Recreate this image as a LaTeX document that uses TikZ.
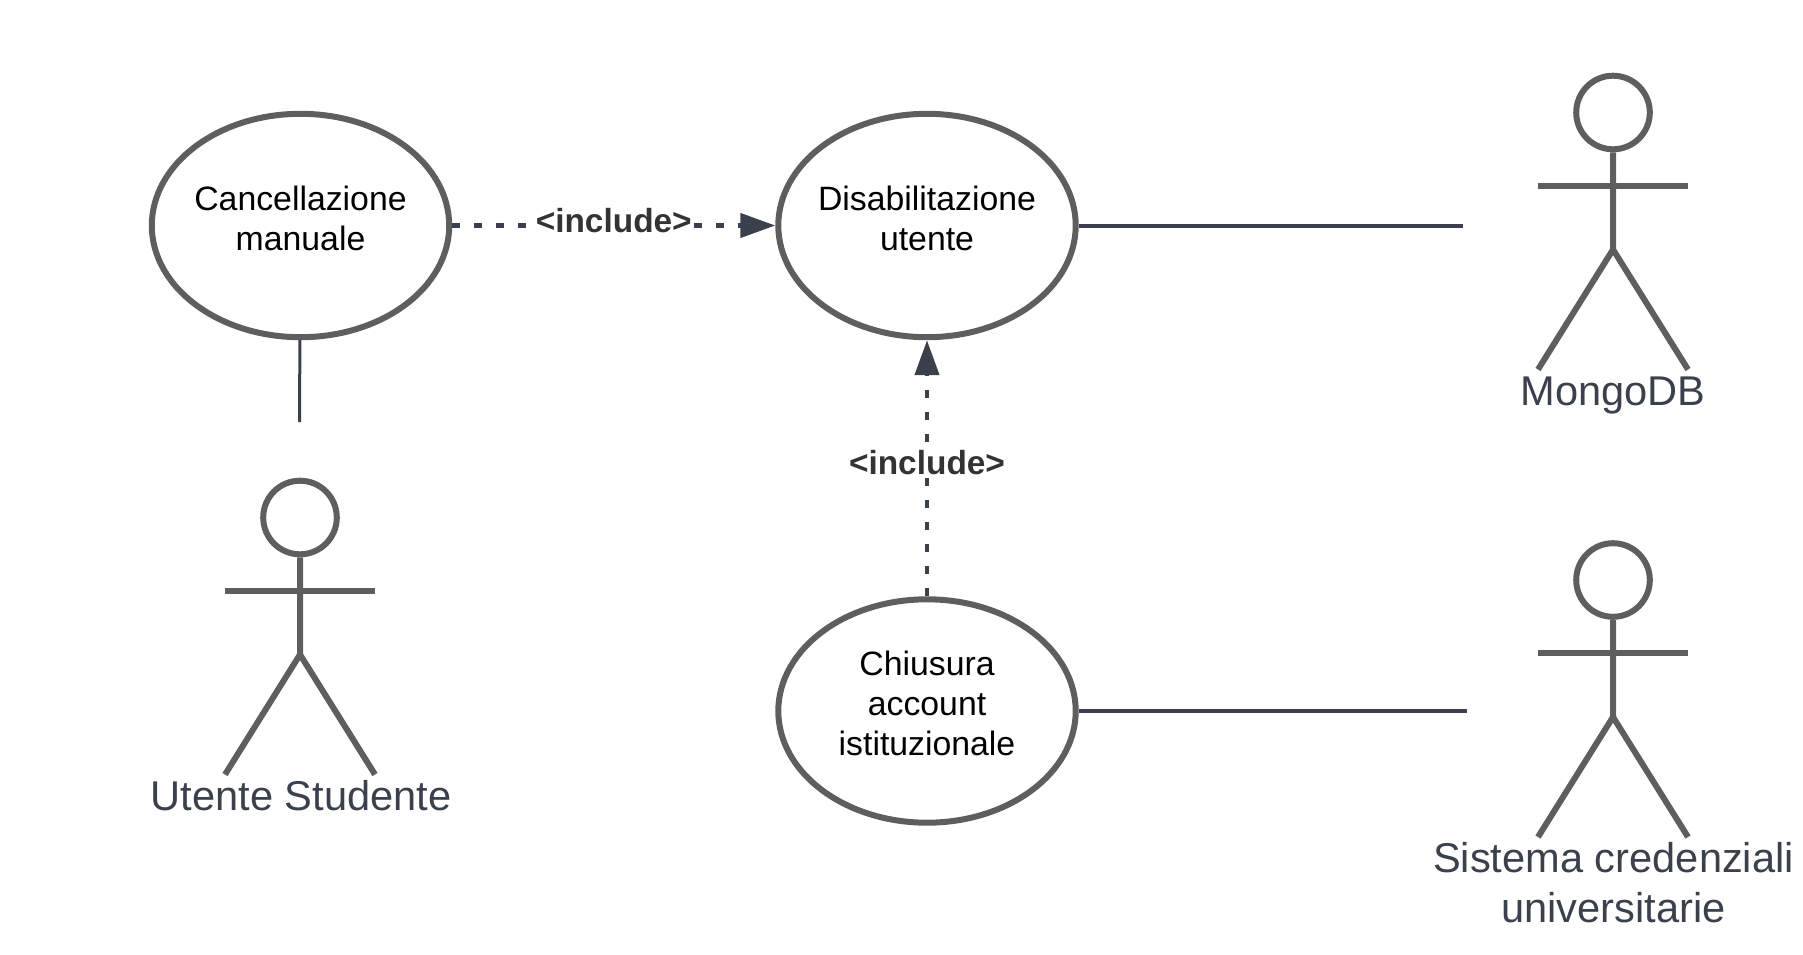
\documentclass[tikz,border=0pt]{standalone}
\usepackage{fontspec}
\setmainfont{Liberation Sans}
\usetikzlibrary{shapes.geometric,arrows.meta}
\definecolor{shapegray}{HTML}{5E5E5E}
\definecolor{slate}{HTML}{3A414C}
\definecolor{inctext}{HTML}{333333}
\begin{document}
\begin{tikzpicture}[x=0.5pt, y=-0.5pt,
    main/.style = {draw=shapegray, ellipse, line width=3pt, minimum width=148.7pt, minimum height=111.7pt, inner sep=0pt},
    title/.style = {align=center, text=black, inner sep=0pt, yshift=3.5pt, font=\fontsize{16.9}{20}\selectfont},
    who/.style = {text=slate, align=center, inner sep=0pt, font=\fontsize{20.8}{25}\selectfont},
    inc/.style = {text=inctext, fill=white, inner sep=1pt, font=\fontsize{16.7}{20}\selectfont\bfseries},
    link/.style = {draw=slate, line width=2pt},
    incl/.style = {link, line width=2.2pt, dash pattern=on 4pt off 7pt, -{Triangle[length=17.5pt,width=12pt,fill=slate]}},
    stick/.style = {draw=shapegray, line width=3pt, line join=round},
    actor/.pic = {
        \node[draw=shapegray, circle, line width=3pt, minimum size=36.8pt, inner sep=0pt] (-h) at (0,0) {};
        \draw[stick] (-h) -- (0,137) -- (-75,257);
        \draw[stick] (0,137) -- (75,257);
        \draw[stick] (-75,73) -- (75,73);
    }]
    \useasboundingbox (0,0) rectangle (1803,954);
    \node[main] (1) at (300.5,225.5) {};
    \node[main] (2) at (927,225.5) {};
    \node[main] (3) at (927,711) {};
    \node[title] (c1) at (1) {Cancellazione\\manuale};
    \node[title] (c2) at (2) {Disabilitazione\\utente};
    \node[title, yshift=0.5pt] (c3) at (3) {Chiusura\\account\\istituzionale};
    \pic (a1) at (300,517.5) {actor};
    \pic (a2) at (1613,112.5) {actor};
    \pic (a3) at (1613,580) {actor};
    \node[who] (t1) at (301,795.5) {Utente Studente};
    \node[who] (t2) at (1613,395) {MongoDB};
    \node[who] (t3) at (1613.5,882.5) {Sistema credenziali\\universitarie};
    \coordinate (e1) at (299.5,422);
    \coordinate (e2) at (1463,225.5);
    \coordinate (e3) at (1467,711);
    \draw[link, line width=1.5pt] (1) -- (e1);
    \draw[link] (2) -- (e2);
    \draw[link] (3) -- (e3);
    \draw[incl] (1) -- node [inc, midway, yshift=2.5pt] {<include>}(2);
    \draw[incl] (3) -- node [inc, midway, yshift=3pt] {<include>}(2);
\end{tikzpicture}
\end{document}
